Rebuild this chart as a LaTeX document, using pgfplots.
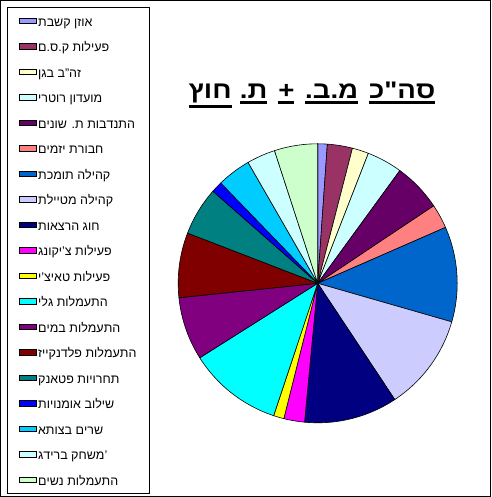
\documentclass[border=0pt]{standalone}
\usepackage{pgfplots}
\usepackage{pgfplotstable}
\pgfplotsset{compat=1.18}
\usepackage{fontspec}
\setmainfont{Liberation Sans}
\newfontfamily\titlefont[FakeStretch=1.15]{Liberation Sans}
\TeXXeTstate=1
\newcommand\heb[1]{\beginR#1\endR}
\newcommand\uw[1]{\vtop{\hbox{\beginR#1\endR}\kern2.6pt\hrule height 2.6pt}}

\definecolor{c1}{HTML}{9999FF}
\definecolor{c2}{HTML}{993366}
\definecolor{c3}{HTML}{FFFFCC}
\definecolor{c4}{HTML}{CCFFFF}
\definecolor{c5}{HTML}{660066}
\definecolor{c6}{HTML}{FF8080}
\definecolor{c7}{HTML}{0066CC}
\definecolor{c8}{HTML}{CCCCFF}
\definecolor{c9}{HTML}{000080}
\definecolor{c10}{HTML}{FF00FF}
\definecolor{c11}{HTML}{FFFF00}
\definecolor{c12}{HTML}{00FFFF}
\definecolor{c13}{HTML}{800080}
\definecolor{c14}{HTML}{800000}
\definecolor{c15}{HTML}{008080}
\definecolor{c16}{HTML}{0000FF}
\definecolor{c17}{HTML}{00CCFF}
\definecolor{c18}{HTML}{CCFFFF}
\definecolor{c19}{HTML}{CCFFCC}

\pgfplotstableread{
value color
1.1  c1
2.9  c2
1.9  c3
4.1  c4
5.6  c5
2.8  c6
11.0 c7
11.2 c8
10.8 c9
2.4  c10
1.2  c11
10.9 c12
7.3  c13
7.5  c14
5.6  c15
1.3  c16
3.9  c17
3.3  c18
5.0  c19
}\piedata
\pgfplotstablecreatecol[create col/expr accum={\pgfmathaccuma + \thisrow{value}}{0}]{cum}{\piedata}

\begin{document}
\begin{tikzpicture}
\useasboundingbox (0,0) rectangle (491pt,497pt);
\draw[line width=1.4pt] (0.7pt,0.7pt) rectangle (490.3pt,496.3pt);
\begin{axis}[
  hide axis, clip=false,
  scale only axis,
  x=139.5pt, y=139.5pt,
  xmin=-1, xmax=1, ymin=-1, ymax=1,
  at={(317.7pt,213.7pt)}, anchor=center,
  legend cell align=left,
  legend image code/.code={\draw[#1, line width=0.5pt] (0pt,0pt) rectangle (8.5pt,8.5pt);},
  legend style={
    at={(-0.6125,1.4914)}, anchor=north west,
    draw=black, line width=0.9pt,
    inner xsep=11.5pt, inner ysep=0.75pt,
    font=\fontsize{12.5}{15}\selectfont,
    nodes={text height=18.5pt, text depth=7pt, inner ysep=0pt, inner xsep=1.2pt},
    /tikz/every odd column/.style={column sep=0pt},
    /tikz/every even column/.style={column sep=0pt},
  },
  legend entries={
    {\heb{אוזן קשבת}},
    {\heb{פעילות ק.ס.ם}},
    {\heb{זה"ב בגן}},
    {\heb{מועדון רוטרי}},
    {\heb{התנדבות ת. שונים}},
    {\heb{חבורת יזמים}},
    {\heb{קהילה תומכת}},
    {\heb{קהילה מטיילת}},
    {\heb{חוג הרצאות}},
    {\heb{פעילות צ'יקונג}},
    {\heb{פעילות טאיצ'י}},
    {\heb{התעמלות גלי}},
    {\heb{התעמלות במים}},
    {\heb{התעמלות פלדנקייז}},
    {\heb{תחרויות פטאנק}},
    {\heb{שילוב אומנויות}},
    {\heb{שרים בצותא}},
    {\heb{'משחק ברידג}},
    {\heb{התעמלות נשים}}
  },
]
\pgfplotstablegetrowsof{\piedata}
\pgfmathtruncatemacro\N{\pgfplotsretval-1}
\pgfplotstablegetelem{\N}{cum}\of\piedata
\let\total\pgfplotsretval
\pgfplotsforeachungrouped \i in {0,...,\N}{%
  \pgfplotstablegetelem{\i}{cum}\of\piedata \let\cumB\pgfplotsretval
  \pgfplotstablegetelem{\i}{value}\of\piedata \let\val\pgfplotsretval
  \pgfplotstablegetelem{\i}{color}\of\piedata \let\col\pgfplotsretval
  \pgfmathsetmacro\fEnd{\cumB/\total}%
  \pgfmathsetmacro\fStart{(\cumB-\val)/\total}%
  \pgfmathsetmacro\aEnd{90-360*\fEnd}%
  \pgfmathsetmacro\aStart{90-360*\fStart}%
  \edef\doplot{\noexpand\addplot[fill=\col, draw=black, line width=0.6pt, domain=\aEnd:\aStart, samples=60, area legend] ({cos(x)},{sin(x)}) -- (axis cs:0,0) -- cycle;}%
  \doplot
}
\node[font=\titlefont\fontsize{24}{28}\selectfont\bfseries, anchor=base, inner sep=0pt] at (rel axis cs:0.4796,1.163)
  {\beginR\uw{סה"כ}\hspace{0.45em}\uw{מ.ב.}\hspace{0.45em}\uw{+}\hspace{0.45em}\uw{ת.}\hspace{0.35em}\uw{חוץ}\endR};
\end{axis}
\end{tikzpicture}
\end{document}
